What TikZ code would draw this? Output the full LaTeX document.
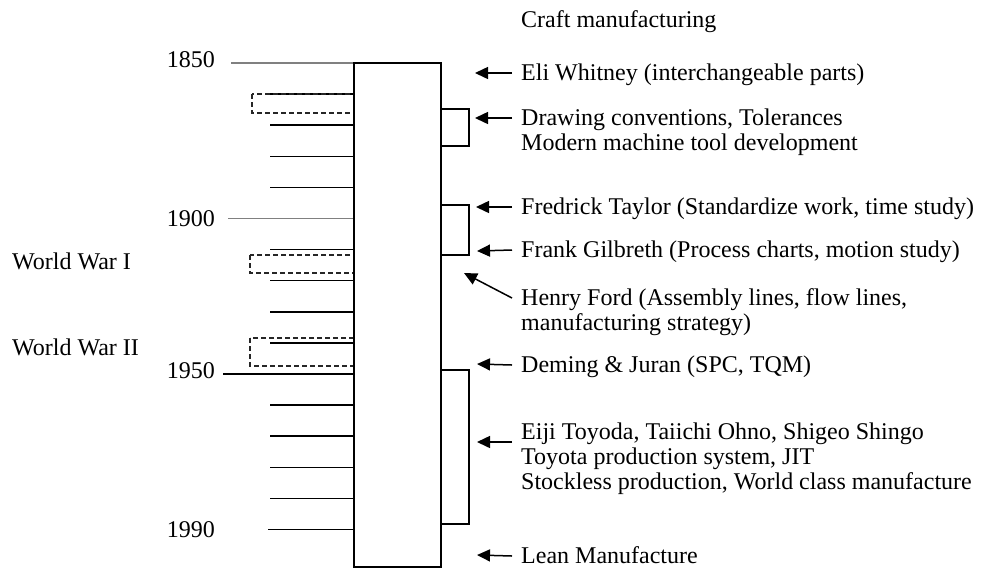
\documentclass[tikz,border=0pt]{standalone}
\usepackage{fontspec}
\setmainfont{Liberation Serif}
\usetikzlibrary{arrows.meta,positioning}

\begin{document}
\begin{tikzpicture}[x=1pt, y=-1pt,
  lbl/.style={font=\fontsize{24}{25}\selectfont, inner xsep=9pt, inner ysep=0pt,
    text height=17pt, text depth=3pt, anchor=west},
  nxt/.style={lbl, below right=5pt and 0pt of #1},
  yr/.style={font=\fontsize{24}{25}\selectfont, inner sep=0pt, anchor=east},
  arr/.style={line width=1.5pt, -{Triangle[length=13pt, width=12pt]}},
  tick/.style={line width=1.5pt},
  war/.style={dash pattern=on 5pt off 3pt, line width=1.3pt, black!85},
  bar/.style={line width=1.5pt}]
  \useasboundingbox (0,0) rectangle (982,574);

  % Decade ticks
  \foreach \k in {1,2,3,4,6,7,8,9,11,12,13,14} {
    \draw[tick] (270,63+31.1*\k) -- (354,63+31.1*\k);
  }

  % Year ticks and labels
  \draw[tick, gray] (231,63) -- (354,63);
  \draw[tick, gray] (228,218.5) -- (354,218.5);
  \draw[tick] (223,374) -- (354,374);
  \draw[tick] (268,529.5) -- (354,529.5);
  \node[yr] (y1850) at (215,60) {1850};
  \node[yr] (y1900) at (215,219) {1900};
  \node[yr] (y1950) at (215,371) {1950};
  \node[yr] (y1990) at (215,530) {1990};

  % Wars
  \draw[war] (252,94) rectangle (354,113);
  \draw[war] (250,255) rectangle (354,273);
  \draw[war] (250,338) rectangle (354,366);
  \node[lbl, inner xsep=0pt] (ww1) at (12,262) {World War I};
  \node[lbl, inner xsep=0pt] (ww2) at (12,348) {World War II};

  % Main bar and periods
  \draw[bar] (354,63) rectangle (441,567);
  \draw[bar] (441,109) rectangle (469,146);
  \draw[bar] (441,205) rectangle (469,255);
  \draw[bar] (441,370) rectangle (469,524);

  % Events
  \node[lbl] (craft) at (512,20) {Craft manufacturing};
  \node[lbl] (eli) at (512,73) {Eli Whitney (interchangeable parts)};
  \node[lbl] (drawing) at (512,118) {Drawing conventions, Tolerances};
  \node[nxt=drawing.south west] (modern) {Modern machine tool development};
  \node[lbl] (taylor) at (512,207) {Fredrick Taylor (Standardize work, time study)};
  \node[lbl] (gilbreth) at (512,250) {Frank Gilbreth (Process charts, motion study)};
  \node[lbl] (ford) at (512,298) {Henry Ford (Assembly lines, flow lines,};
  \node[nxt=ford.south west] (ford2) {manufacturing strategy)};
  \node[lbl] (deming) at (512,365) {Deming \& Juran (SPC, TQM)};
  \node[lbl] (toyoda) at (512,432) {Eiji Toyoda, Taiichi Ohno, Shigeo Shingo};
  \node[nxt=toyoda.south west] (tps) {Toyota production system, JIT};
  \node[nxt=tps.south west] (stockless) {Stockless production, World class manufacture};
  \node[lbl] (lean) at (512,556) {Lean Manufacture};

  % Arrows
  \coordinate (eliH) at (475,73);
  \coordinate (drawingH) at (475,118);
  \coordinate (taylorH) at (476,207);
  \coordinate (gilbrethH) at (477,251);
  \coordinate (fordH) at (464,273);
  \coordinate (demingH) at (477,364);
  \coordinate (toyodaH) at (477,442);
  \coordinate (leanH) at (477,555);
  \draw[arr] (eli.west) -- (eliH);
  \draw[arr] (drawing.west) -- (drawingH);
  \draw[arr] (taylor.west) -- (taylorH);
  \draw[arr] (gilbreth.west) -- (gilbrethH);
  \draw[arr] (ford.west) -- (fordH);
  \draw[arr] (deming.west) -- (demingH);
  \draw[arr] ([yshift=-10pt]toyoda.west) -- (toyodaH);
  \draw[arr] (lean.west) -- (leanH);
\end{tikzpicture}
\end{document}
